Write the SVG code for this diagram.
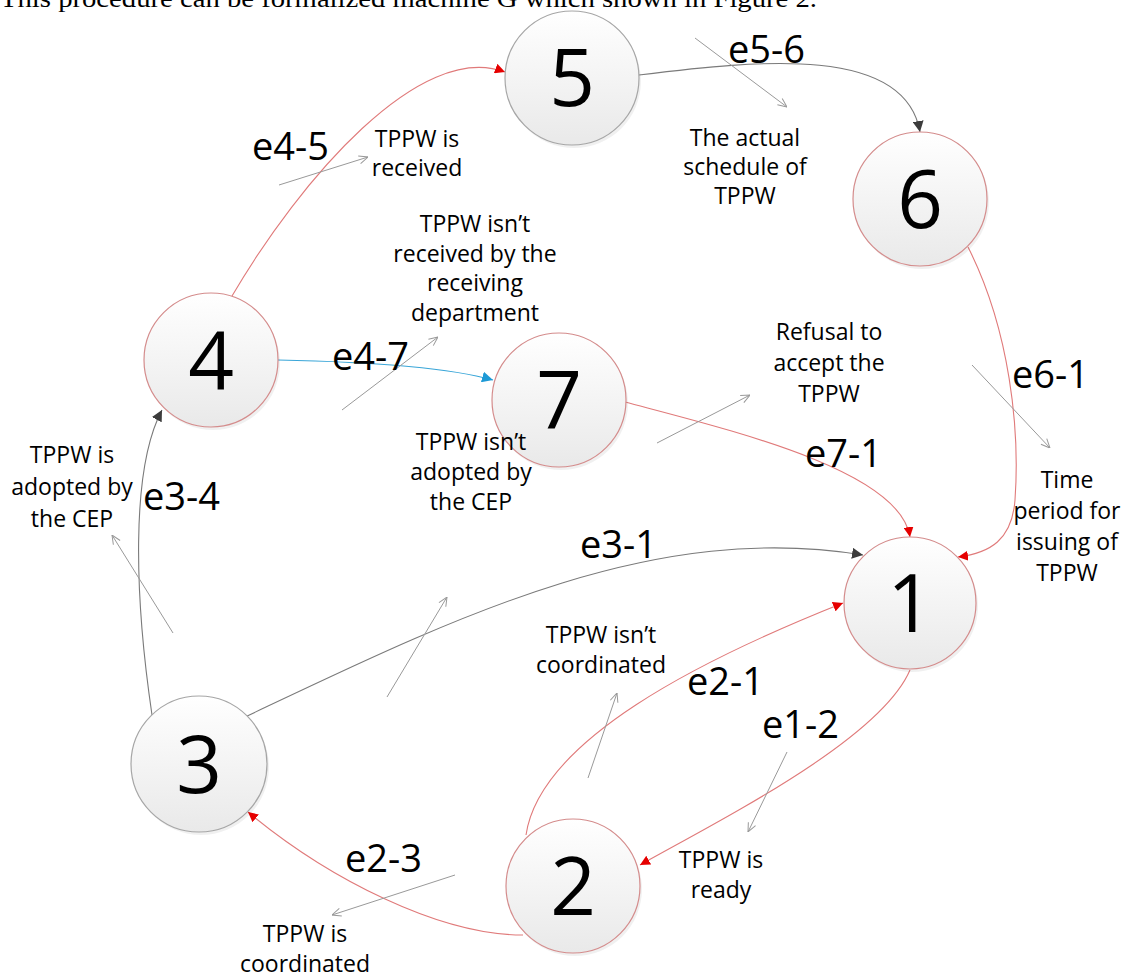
<svg xmlns="http://www.w3.org/2000/svg" width="1142" height="979" viewBox="0 0 1142 979">
<style>
.top{font-family:"Liberation Serif",serif;font-size:25px;fill:#000}
.num{font-family:"Open Sans","Liberation Sans",sans-serif;font-size:80px;fill:#000;text-anchor:middle}
.el{font-family:"Open Sans","Liberation Sans",sans-serif;font-size:38px;fill:#000}
.lb{font-family:"Open Sans","Liberation Sans",sans-serif;font-size:23px;fill:#000;text-anchor:middle}
.nr{fill:url(#g);stroke:#d48c8c;stroke-width:1.2}
.ng{fill:url(#g);stroke:#a6a6a6;stroke-width:1.2}
.sh{fill:#000;opacity:0.06}
.cr{fill:none;stroke:#e07a7a;stroke-width:1.1}
.cg{fill:none;stroke:#7a7a7a;stroke-width:1.1}
.cb{fill:none;stroke:#3aa6d8;stroke-width:1.2}
.pt{fill:none;stroke:#999;stroke-width:1;marker-end:url(#open)}
</style>
<defs>
<linearGradient id="g" x1="0" y1="0" x2="0" y2="1">
<stop offset="0" stop-color="#ffffff"/>
<stop offset="1" stop-color="#e9e9e9"/>
</linearGradient>
<marker id="ar" viewBox="0 0 10 10" refX="10" refY="5" markerWidth="10" markerHeight="10" markerUnits="userSpaceOnUse" orient="auto"><path d="M0,0 L10,5 L0,10 z" fill="#e60000"/></marker>
<marker id="ag" viewBox="0 0 10 10" refX="10" refY="5" markerWidth="11" markerHeight="11" markerUnits="userSpaceOnUse" orient="auto"><path d="M0,0 L10,5 L0,10 z" fill="#3c3c3c"/></marker>
<marker id="ab" viewBox="0 0 10 10" refX="10" refY="5" markerWidth="11" markerHeight="11" markerUnits="userSpaceOnUse" orient="auto"><path d="M0,0 L10,5 L0,10 z" fill="#1e9ad6"/></marker>
<marker id="open" viewBox="0 0 10 10" refX="10" refY="5" markerWidth="10" markerHeight="10" markerUnits="userSpaceOnUse" orient="auto"><path d="M1,1 L10,5 L1,9" fill="none" stroke="#999" stroke-width="1"/></marker>
</defs>
<rect width="1142" height="979" fill="#fff"/>
<text class="top" x="0" y="7" textLength="817" lengthAdjust="spacingAndGlyphs">This procedure can be formalized machine G  which shown in Figure 2.</text>

<g id="connectors">
<path class="cr" d="M232,296 C300,180 420,40 505,72" marker-end="url(#ar)"/>
<path class="cg" d="M639,75 C760,60 905,45 920,132" marker-end="url(#ag)"/>
<path class="cr" d="M968,247 C1010,330 1020,430 1015,500 C1012,540 990,553 958,557" marker-end="url(#ar)"/>
<path class="cr" d="M625,402 C730,430 900,470 910,537" marker-end="url(#ar)"/>
<path class="cb" d="M278,360 C380,362 450,368 493,380" marker-end="url(#ab)"/>
<path class="cg" d="M152,715 C135,600 130,470 162,410" marker-end="url(#ag)"/>
<path class="cg" d="M245,717 C450,620 650,520 863,555" marker-end="url(#ag)"/>
<path class="cr" d="M526,835 C540,740 700,660 843,603" marker-end="url(#ar)"/>
<path class="cr" d="M910,670 C880,740 720,820 640,865" marker-end="url(#ar)"/>
<path class="cr" d="M523,935 C440,935 330,880 248,812" marker-end="url(#ar)"/>
<line class="pt" x1="279" y1="185" x2="368" y2="157"/>
<line class="pt" x1="695" y1="38" x2="787" y2="107"/>
<line class="pt" x1="342" y1="410" x2="438" y2="337"/>
<line class="pt" x1="657" y1="443" x2="750" y2="395"/>
<line class="pt" x1="972" y1="365" x2="1050" y2="448"/>
<line class="pt" x1="173" y1="633" x2="112" y2="535"/>
<line class="pt" x1="387" y1="697" x2="447" y2="597"/>
<line class="pt" x1="588" y1="778" x2="617" y2="693"/>
<line class="pt" x1="787" y1="752" x2="748" y2="832"/>
<line class="pt" x1="455" y1="875" x2="332" y2="915"/>
</g>

<g id="node5"><circle class="sh" cx="574" cy="81" r="67"/><circle class="ng" cx="572" cy="78" r="67"/><text class="num" x="572" y="106">5</text></g>
<g id="node6"><circle class="sh" cx="922" cy="202" r="67"/><circle class="nr" cx="920" cy="199" r="67"/><text class="num" x="920" y="228">6</text></g>
<g id="node4"><circle class="sh" cx="213" cy="363" r="67"/><circle class="nr" cx="211" cy="360" r="67"/><text class="num" x="211" y="389">4</text></g>
<g id="node7"><circle class="sh" cx="561" cy="403" r="67"/><circle class="nr" cx="559" cy="400" r="67"/><text class="num" x="559" y="429">7</text></g>
<g id="node1"><circle class="sh" cx="912" cy="606" r="66"/><circle class="nr" cx="910" cy="603" r="66"/><text class="num" x="910" y="632">1</text></g>
<g id="node3"><circle class="sh" cx="201" cy="767" r="68"/><circle class="ng" cx="199" cy="764" r="68"/><text class="num" x="199" y="793">3</text></g>
<g id="node2"><circle class="sh" cx="575" cy="889" r="67"/><circle class="nr" cx="573" cy="886" r="67"/><text class="num" x="573" y="915">2</text></g>

<g id="edge-labels">
<text class="el" x="728" y="63">e5-6</text>
<text class="el" x="252" y="160">e4-5</text>
<text class="el" x="332" y="370">e4-7</text>
<text class="el" x="1012" y="388">e6-1</text>
<text class="el" x="805" y="467">e7-1</text>
<text class="el" x="580" y="558">e3-1</text>
<text class="el" x="143" y="510">e3-4</text>
<text class="el" x="687" y="695">e2-1</text>
<text class="el" x="762" y="738">e1-2</text>
<text class="el" x="345" y="872">e2-3</text>
</g>

<g id="texts">
<text class="lb" x="417" y="147">TPPW is<tspan x="417" dy="29">received</tspan></text>
<text class="lb" x="475" y="232">TPPW isn’t<tspan x="475" dy="29.5">received by the</tspan><tspan x="475" dy="29.5">receiving</tspan><tspan x="475" dy="29.5">department</tspan></text>
<text class="lb" x="745" y="146">The actual<tspan x="745" dy="29">schedule of</tspan><tspan x="745" dy="29">TPPW</tspan></text>
<text class="lb" x="829" y="340">Refusal to<tspan x="829" dy="31">accept the</tspan><tspan x="829" dy="31">TPPW</tspan></text>
<text class="lb" x="1067" y="488">Time<tspan x="1067" dy="31">period for</tspan><tspan x="1067" dy="31">issuing of</tspan><tspan x="1067" dy="31">TPPW</tspan></text>
<text class="lb" x="72" y="463">TPPW is<tspan x="72" dy="32">adopted by</tspan><tspan x="72" dy="32">the CEP</tspan></text>
<text class="lb" x="471" y="450">TPPW isn’t<tspan x="471" dy="30">adopted by</tspan><tspan x="471" dy="30">the CEP</tspan></text>
<text class="lb" x="601" y="643">TPPW isn’t<tspan x="601" dy="30">coordinated</tspan></text>
<text class="lb" x="721" y="868">TPPW is<tspan x="721" dy="30">ready</tspan></text>
<text class="lb" x="305" y="942">TPPW is<tspan x="305" dy="30">coordinated</tspan></text>
</g>
</svg>
